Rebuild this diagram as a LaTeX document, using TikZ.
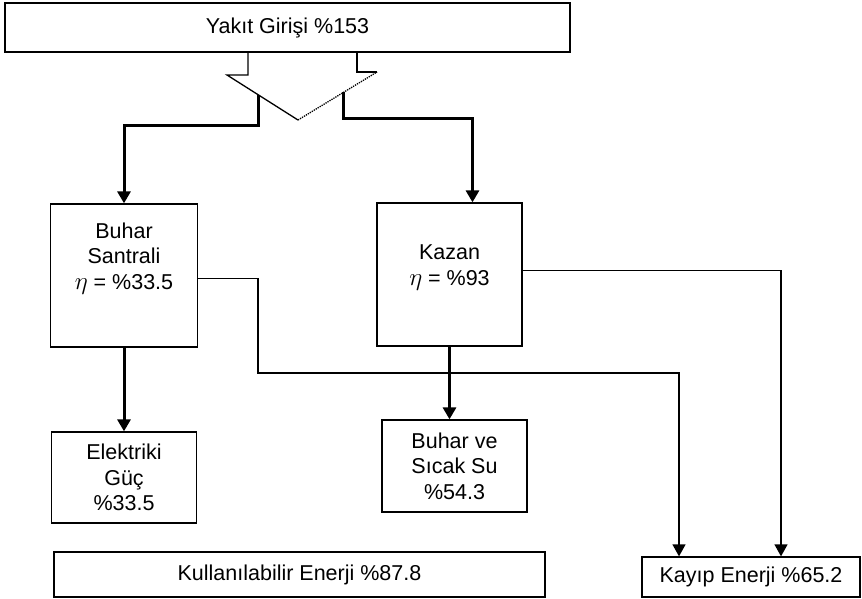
\documentclass[tikz,border=0pt]{standalone}
\usepackage{fontspec}
\setmainfont{Liberation Sans}
\usetikzlibrary{arrows.meta}

\begin{document}
\begin{tikzpicture}[x=1pt,y=-1pt,
	metin/.style={align=center,font=\fontsize{21.5}{25.5}\selectfont},
	kutu/.style={shape=rectangle,draw=black,line width=1.3pt,inner sep=0pt,metin},
	kalin/.style={line width=3pt,-{Triangle[width=13pt,length=12pt]}},
	ince/.style={line width=1.3pt,-{Triangle[width=13pt,length=12pt]}}]

	\useasboundingbox (0,0) rectangle (862,598);

	\node[kutu,minimum width=565pt,minimum height=49pt] (yakit) at (287.5,27.5) {Yakıt Girişi \%153};
	\node[kutu,minimum width=147pt,minimum height=143pt,
		label={[metin,yshift=17pt]center:{Buhar\\Santrali\\{\fontsize{28}{25}\selectfont$\eta$} = \%33.5}}] (buhar) at (124,275.5) {};
	\node[kutu,minimum width=145pt,minimum height=143pt,
		label={[metin,yshift=7pt]center:{Kazan\\{\fontsize{28}{25}\selectfont$\eta$} = \%93}}] (kazan) at (449.5,274.5) {};
	\node[kutu,minimum width=145pt,minimum height=91pt] (elektrik) at (124,477.5) {Elektriki\\Güç\\\%33.5};
	\node[kutu,minimum width=145pt,minimum height=92pt] (sicaksu) at (454.5,466) {Buhar ve\\Sıcak Su\\\%54.3};
	\node[kutu,minimum width=491pt,minimum height=45pt] (kullanilabilir) at (299.5,574.5) {Kullanılabilir Enerji \%87.8};
	\node[kutu,minimum width=218pt,minimum height=40pt] (kayip) at (751,577) {Kayıp Enerji \%65.2};

	% yakit girisinin ayrilmasi
	\draw[line width=1.3pt] (248,52) -- (248,75) -- (227,75) -- (298,120);
	\draw[line width=1.3pt,densely dotted] (298,120) -- (377,72);
	\draw[line width=1.3pt] (377,72) -- (357,72) -- (357,52);
	\coordinate (sol) at (258,95);
	\coordinate (sag) at (343,92);

	\draw[kalin] (sol) -- ++(0,30) -| (buhar.north);
	\draw[kalin] (sag) -- ++(0,26) -| ([xshift=23pt]kazan.north);
	\draw[kalin] (buhar) -- (elektrik);
	\draw[kalin] (kazan.south) -- (kazan.south |- sicaksu.north);

	% kayiplar
	\draw[ince] ([yshift=-3pt]buhar.east) -| (258,373) -| ([xshift=-72pt]kayip.north);
	\draw[ince] ([yshift=4pt]kazan.east) -| ([xshift=30pt]kayip.north);

\end{tikzpicture}
\end{document}
